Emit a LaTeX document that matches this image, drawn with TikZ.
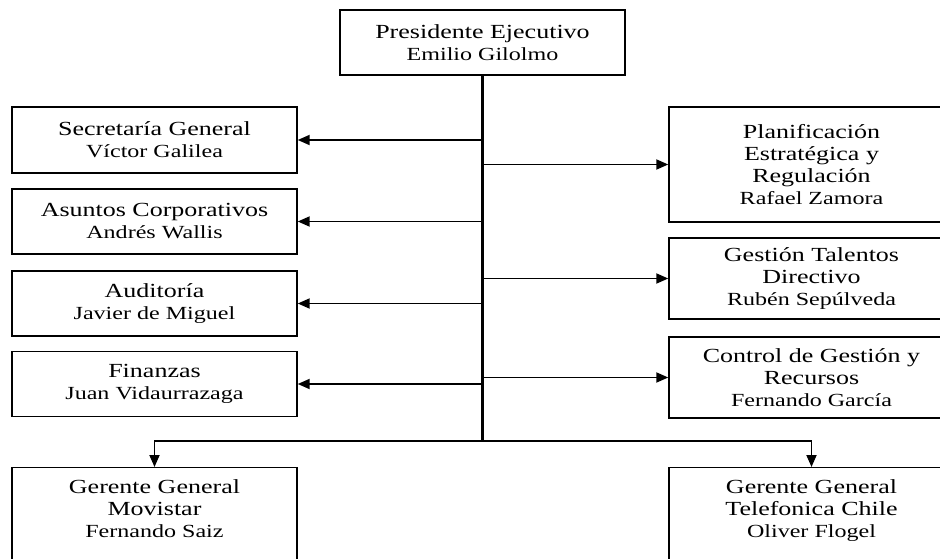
\documentclass[tikz,border=0pt]{standalone}
\usepackage{fontspec}
\setmainfont{Liberation Serif}[FakeStretch=1.3]
\usepackage{tikz}
\usetikzlibrary{arrows.meta, positioning}
\newcommand{\person}[1]{{\fontsize{18.5}{22}\selectfont #1}}

\begin{document}
\begin{tikzpicture}[
    x=1pt, y=-1pt,
    box/.style={rectangle, draw=black, line width=1.4pt, minimum width=285pt,
      minimum height=#1, align=center, inner sep=0pt,
      font=\fontsize{20}{22}\selectfont},
    box/.default=65pt,
    link/.style={-{Triangle[length=12pt, width=10pt]}, line width=1.8pt},
    spine/.style={line width=3.2pt}
  ]
  \useasboundingbox (0,0) rectangle (940,559);
  \clip (0,0) rectangle (940,559);
  % top
  \node[box] (pres) at (482.5,42.5) {Presidente Ejecutivo\\\person{Emilio Gilolmo}};
  % left column
  \node[box=66pt] (sec) at (154.5,140) {Secretaría General\\\person{Víctor Galilea}};
  \node[box] (asu) at (154.5,221.5) {Asuntos Corporativos\\\person{Andrés Wallis}};
  \node[box] (aud) at (154.5,303.5) {Auditoría\\\person{Javier de Miguel}};
  \node[box] (fin) at (154.5,384) {Finanzas\\\person{Juan Vidaurrazaga}};
  % right column
  \node[box=115pt] (plan) at (811.5,164.5) {Planificación\\Estratégica y\\Regulación\\\person{Rafael Zamora}};
  \node[box=81pt] (tal) at (811.5,278.5) {Gestión Talentos\\Directivo\\\person{Rubén Sepúlveda}};
  \node[box=81pt] (ctl) at (811.5,377.5) {Control de Gestión y\\Recursos\\\person{Fernando García}};
  % bottom
  \node[box=0pt, anchor=north, inner ysep=12pt, text depth=70pt] (mov) at (154.5,467)
    {Gerente General\\Movistar\\\person{Fernando Saiz}};
  \node[box=0pt, anchor=north, inner ysep=12pt, text depth=70pt] (tel) at (811.5,467)
    {Gerente General\\Telefonica Chile\\\person{Oliver Flogel}};
  \coordinate (hub) at (482.5,441);
  \draw[spine] (pres.south) -- (hub);
  \foreach \b in {sec, asu, aud, fin} {
    \draw[link] (\b -| pres.south) -- (\b.east);
  }
  \foreach \b in {plan, tal, ctl} {
    \draw[link] (\b -| pres.south) -- (\b.west);
  }
  \draw[link] (hub) -| (mov.north);
  \draw[link] (hub) -| (tel.north);
\end{tikzpicture}
\end{document}
